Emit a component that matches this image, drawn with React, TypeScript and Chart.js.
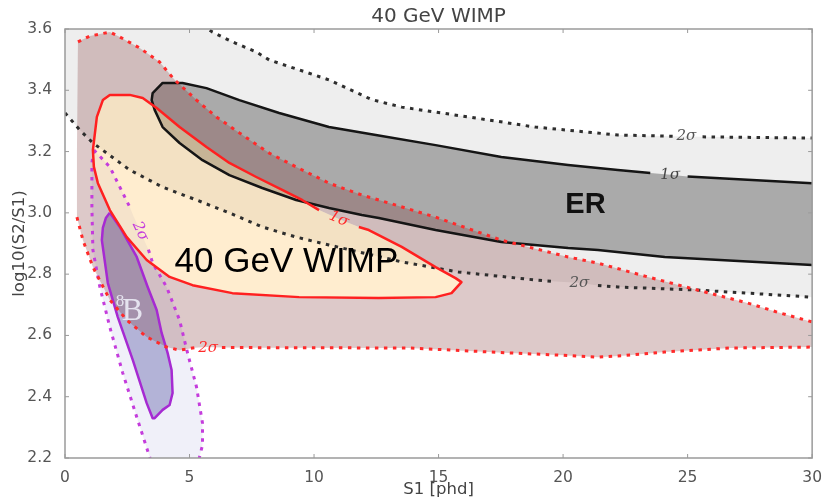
import React, { useEffect, useRef } from 'react';
import { Chart, registerables } from 'chart.js';

Chart.register(...registerables);

type Pt = [number, number];

const X_MIN = 0;
const X_MAX = 30;
const Y_MIN = 2.2;
const Y_MAX = 3.6;
const X_TICKS = [0, 5, 10, 15, 20, 25, 30];
const Y_TICKS = [2.2, 2.4, 2.6, 2.8, 3.0, 3.2, 3.4, 3.6];

// ER band, 2 sigma contour (upper / lower branch, left -> right)
const ER2_UPPER: Pt[] = [
  [4.6, 3.66], [5.2, 3.63], [5.92, 3.59], [6.72, 3.558], [7.68, 3.525], [8.2, 3.499],
  [10.6, 3.434], [12.3, 3.37], [13.52, 3.345], [16.2, 3.313], [18.88, 3.28], [22.2, 3.254],
  [24.4, 3.25], [25.0, 3.249], [25.6, 3.248], [30, 3.244],
];
const ER2_LOWER: Pt[] = [
  [0, 3.326], [0.6, 3.27], [1.12, 3.228], [2.6, 3.14], [3.92, 3.084], [5.28, 3.042],
  [6.6, 3.0], [7.92, 2.954], [9.28, 2.921], [10.6, 2.895], [13.52, 2.84], [15.8, 2.807],
  [18.88, 2.781], [19.7, 2.776], [20.7, 2.771], [21.4, 2.763], [22.2, 2.758], [25.4, 2.748], [30, 2.725],
];
// ER band, 1 sigma contour (upper / lower branch from the left tip)
const ER1_UPPER: Pt[] = [
  [3.48, 3.368], [3.52, 3.391], [3.92, 3.424], [4.72, 3.424], [5.68, 3.407], [7.0, 3.368],
  [8.6, 3.326], [10.6, 3.28], [12.48, 3.254], [14.88, 3.221], [17.52, 3.182], [20.2, 3.156],
  [22.2, 3.14], [23.5, 3.13], [24.2, 3.125], [25.0, 3.119], [30, 3.097],
];
const ER1_LOWER: Pt[] = [
  [3.48, 3.368], [3.6, 3.336], [3.92, 3.28], [4.6, 3.228], [5.52, 3.172], [6.6, 3.123],
  [7.92, 3.081], [9.28, 3.042], [10.6, 3.016], [11.92, 2.993], [12.6, 2.983], [14.88, 2.944],
  [17.52, 2.905], [20.2, 2.885], [21.4, 2.879], [24.08, 2.856], [30, 2.83],
];
// 40 GeV WIMP, 2 sigma contour
const WIMP2_UPPER: Pt[] = [
  [0.52, 3.558], [1.0, 3.577], [1.8, 3.59], [2.2, 3.574], [3.0, 3.538], [3.8, 3.492],
  [4.4, 3.434], [5.28, 3.368], [6.08, 3.313], [7.0, 3.261], [8.2, 3.195], [9.28, 3.15],
  [10.6, 3.097], [11.92, 3.058], [12.6, 3.042], [14.88, 2.986], [17.52, 2.911], [20.2, 2.856],
  [21.4, 2.836], [23.4, 2.791], [25.4, 2.748], [27.4, 2.706], [28.72, 2.673], [30, 2.644],
];
const WIMP2_LOWER: Pt[] = [
  [0.48, 2.986], [0.72, 2.911], [1.12, 2.823], [1.8, 2.716], [2.48, 2.65], [3.28, 2.595],
  [4.08, 2.562], [4.6, 2.552], [5.2, 2.56], [5.7, 2.562], [6.3, 2.561], [8.0, 2.56],
  [13.8, 2.559], [17.8, 2.543], [19.8, 2.536], [21.4, 2.529], [22.4, 2.534], [24.08, 2.546],
  [26.72, 2.559], [30, 2.562],
];
// 40 GeV WIMP, 1 sigma contour (closed)
const WIMP1: Pt[] = [
  [1.12, 3.205], [1.16, 3.15], [1.32, 3.097], [1.8, 3.009], [2.48, 2.921], [3.28, 2.846],
  [4.2, 2.791], [5.12, 2.764], [6.72, 2.738], [9.4, 2.725], [12.6, 2.722], [14.88, 2.725],
  [15.52, 2.738], [15.92, 2.774], [15.68, 2.787], [14.88, 2.823], [13.52, 2.889], [12.2, 2.944],
  [11.8, 2.954], [11.0, 2.98], [10.2, 3.009], [9.52, 3.042], [8.72, 3.075], [7.68, 3.117],
  [6.6, 3.163], [5.68, 3.215], [4.6, 3.28], [3.68, 3.342], [3.12, 3.375], [2.6, 3.385],
  [1.8, 3.385], [1.52, 3.368], [1.28, 3.313], [1.12, 3.205],
];
// 8B, 1 sigma contour (closed)
const B8_1: Pt[] = [
  [1.8, 3.0], [2.2, 2.954], [2.88, 2.856], [3.32, 2.758], [3.68, 2.683], [3.88, 2.608],
  [4.12, 2.543], [4.28, 2.487], [4.32, 2.412], [4.2, 2.373], [3.92, 2.357], [3.6, 2.33],
  [3.52, 2.33], [3.28, 2.379], [2.72, 2.52], [2.12, 2.66], [1.72, 2.771], [1.48, 2.911],
  [1.52, 2.951], [1.64, 2.983], [1.8, 3.0],
];
// 8B, 2 sigma contour (left / right branch, top -> bottom)
const B8_2_LEFT: Pt[] = [
  [1.16, 3.205], [1.08, 3.163], [1.08, 3.019], [1.12, 2.879], [1.4, 2.758], [1.8, 2.627],
  [2.32, 2.477], [2.88, 2.334], [3.4, 2.203], [3.7, 2.12],
];
const B8_2_RIGHT: Pt[] = [
  [1.16, 3.205], [1.8, 3.15], [2.6, 3.019], [2.75, 2.99], [3.0, 2.944], [3.35, 2.88],
  [3.52, 2.836], [4.08, 2.758], [4.6, 2.65], [4.92, 2.543], [5.28, 2.432], [5.52, 2.314],
  [5.52, 2.242], [5.4, 2.203], [5.25, 2.12],
];

type Label = { key: string; x: number; y: number; text: string; color: string; angle: number; gx: number; gy: number };
const CONTOUR_LABELS: Label[] = [
  { key: 'er2u', x: 24.95, y: 3.249, text: '2σ', color: '#555', angle: 0, gx: 0.5, gy: 0.04 },
  { key: 'er1', x: 24.3, y: 3.124, text: '1σ', color: '#444', angle: -1, gx: 0.6, gy: 0.04 },
  { key: 'er2l', x: 20.65, y: 2.77, text: '2σ', color: '#555', angle: 0, gx: 0.6, gy: 0.04 },
  { key: 'w1', x: 11.0, y: 2.98, text: '1σ', color: '#ff2a2a', angle: 23, gx: 0.55, gy: 0.05 },
  { key: 'w2', x: 5.75, y: 2.558, text: '2σ', color: '#ff2a2a', angle: 0, gx: 0.45, gy: 0.04 },
  { key: 'b2', x: 3.02, y: 2.94, text: '2σ', color: '#c43cdc', angle: 65, gx: 0.3, gy: 0.07 },
];

type Note = { text: string; x: number; y: number; font: string; color: string; align: CanvasTextAlign };
const NOTES: Note[] = [
  { text: 'ER', x: 20.9, y: 3.0, font: 'bold 29px "Liberation Sans"', color: '#111', align: 'center' },
  { text: '8', x: 2.04, y: 2.696, font: '17px "Liberation Serif"', color: 'rgba(236,236,246,0.9)', align: 'left' },
  { text: 'B', x: 2.28, y: 2.65, font: '32px "Liberation Serif"', color: 'rgba(236,236,246,0.9)', align: 'left' },
  { text: '40 GeV WIMP', x: 4.4, y: 2.807, font: '35px "Liberation Sans"', color: '#000', align: 'left' },
];

const toXY = (pts: Pt[]) => pts.map(([x, y]) => ({ x, y }));
const rev = (pts: Pt[]) => pts.slice().reverse();
const labelsFor = (...keys: string[]) => CONTOUR_LABELS.filter((l) => keys.includes(l.key));

function broken(pts: Pt[], labels: Label[]) {
  const out: { x: number; y: number | null }[] = [];
  let inGap = false;
  for (const [x, y] of pts) {
    const hit = labels.some((l) => Math.abs(x - l.x) <= l.gx && Math.abs(y - l.y) <= l.gy);
    if (hit) {
      if (!inGap) out.push({ x, y: null });
      inGap = true;
    } else {
      out.push({ x, y });
      inGap = false;
    }
  }
  return out;
}

function area(pts: Pt[], color: string) {
  return {
    data: toXY(pts), fill: 'shape', backgroundColor: color, borderColor: 'rgba(0,0,0,0)',
    borderWidth: 0, borderDash: [1, 1], pointRadius: 0, pointHoverRadius: 0, tension: 0,
  };
}
function stroke(data: any[], color: string, width: number, dash: number[]) {
  return {
    data, fill: false, borderColor: color, backgroundColor: color, borderWidth: width,
    borderDash: dash, borderCapStyle: 'butt', borderJoinStyle: 'round',
    pointRadius: 0, pointHoverRadius: 0, tension: 0,
  };
}

const framePlugin = {
  id: 'frame',
  afterDatasetsDraw(chart: any) {
    const { ctx, chartArea: a, scales } = chart;
    ctx.save();
    ctx.strokeStyle = '#9a9a9a';
    ctx.lineWidth = 1.5;
    ctx.strokeRect(a.left, a.top, a.right - a.left, a.bottom - a.top);
    ctx.lineWidth = 1;
    ctx.beginPath();
    for (const v of X_TICKS) {
      const px = scales.x.getPixelForValue(v);
      ctx.moveTo(px, a.bottom); ctx.lineTo(px, a.bottom - 4);
      ctx.moveTo(px, a.top); ctx.lineTo(px, a.top + 4);
    }
    for (const v of Y_TICKS) {
      const py = scales.y.getPixelForValue(v);
      ctx.moveTo(a.left, py); ctx.lineTo(a.left + 4, py);
      ctx.moveTo(a.right, py); ctx.lineTo(a.right - 4, py);
    }
    ctx.stroke();
    ctx.restore();
  },
};

const notesPlugin = {
  id: 'notes',
  afterDatasetsDraw(chart: any) {
    const { ctx, scales } = chart;
    const xs = scales.x;
    const ys = scales.y;
    ctx.save();
    for (const l of CONTOUR_LABELS) {
      ctx.save();
      ctx.translate(xs.getPixelForValue(l.x), ys.getPixelForValue(l.y));
      ctx.rotate((l.angle * Math.PI) / 180);
      ctx.font = 'italic 15px "DejaVu Serif"';
      ctx.fillStyle = l.color;
      ctx.textAlign = 'center';
      ctx.textBaseline = 'middle';
      ctx.fillText(l.text, 0, 0);
      ctx.restore();
    }
    for (const n of NOTES) {
      ctx.font = n.font;
      ctx.fillStyle = n.color;
      ctx.textAlign = n.align;
      ctx.textBaseline = 'alphabetic';
      ctx.fillText(n.text, xs.getPixelForValue(n.x), ys.getPixelForValue(n.y));
    }
    ctx.restore();
  },
};

export default function App() {
  const ref = useRef<HTMLCanvasElement | null>(null);

  useEffect(() => {
    if (!ref.current) return;
    const top = Y_MAX + 0.2;
    const P0: Pt = [WIMP2_LOWER[0][0], WIMP1[0][1]];
    const ringPts: Pt[] = [P0, ...WIMP2_UPPER, ...rev(WIMP2_LOWER), P0, ...WIMP1, P0];
    const er2Band: Pt[] = [...ER2_LOWER, ...rev(ER2_UPPER), [ER2_UPPER[0][0], top], [X_MIN, top]];
    const er1Shape: Pt[] = [...ER1_UPPER, ...rev(ER1_LOWER)];
    const b82Shape: Pt[] = [...B8_2_RIGHT, ...rev(B8_2_LEFT)];
    const er1Outline: Pt[] = [...rev(ER1_LOWER), ...ER1_UPPER.slice(1)];

    const dotted = [3.5, 5.5];
    const datasets: any[] = [
      area(er2Band, '#eeeeee'),
      area(er1Shape, '#aaaaaa'),
      area(b82Shape, 'rgba(200,200,235,0.28)'),
      area(B8_1, 'rgba(95,95,170,0.42)'),
      area(ringPts, 'rgba(120,40,40,0.25)'),
      area(WIMP1, 'rgba(255,200,110,0.33)'),
      stroke(broken(ER2_UPPER, labelsFor('er2u')), '#2e2e2e', 3, dotted),
      stroke(broken(ER2_LOWER, labelsFor('er2l')), '#2e2e2e', 3, dotted),
      stroke(broken(er1Outline, labelsFor('er1')), '#151515', 2.5, []),
      stroke(toXY(B8_2_LEFT), '#c43cdc', 3, dotted),
      stroke(broken(B8_2_RIGHT, labelsFor('b2')), '#c43cdc', 3, dotted),
      stroke(toXY(B8_1), '#a62ad2', 2.5, []),
      stroke(toXY(WIMP2_UPPER), '#ff2a2a', 3, dotted),
      stroke(broken(WIMP2_LOWER, labelsFor('w2')), '#ff2a2a', 3, dotted),
      stroke(broken(WIMP1, labelsFor('w1')), '#ff2020', 2.5, []),
    ];
    datasets.forEach((d, i) => { d.order = datasets.length - i; });

    const tickFont = { family: 'DejaVu Sans', size: 15.5 };
    const chart = new Chart(ref.current, {
      type: 'line',
      data: { datasets },
      options: {
        animation: false,
        responsive: false,
        events: [],
        layout: { padding: { top: 0, right: 10, bottom: 0, left: 0 } },
        plugins: {
          legend: { display: false },
          tooltip: { enabled: false },
          title: {
            display: true, text: '40 GeV WIMP', fullSize: false, color: '#444',
            font: { family: 'DejaVu Sans', size: 20, weight: 'normal', lineHeight: 1.2 },
            padding: { top: 5, bottom: 0 },
          },
        },
        scales: {
          x: {
            type: 'linear', min: X_MIN, max: X_MAX,
            afterBuildTicks: (s: any) => { s.ticks = X_TICKS.map((v) => ({ value: v })); },
            afterFit: (s: any) => { s.height = 44; },
            grid: { display: false },
            border: { display: false },
            ticks: { color: '#555', font: tickFont, padding: 3, maxRotation: 0, autoSkip: false, callback: (v: any) => String(v) },
            title: { display: true, text: 'S1 [phd]', color: '#444', font: { family: 'DejaVu Sans', size: 16.5 }, padding: { top: 0, bottom: 2 } },
          },
          y: {
            type: 'linear', min: Y_MIN, max: Y_MAX,
            afterBuildTicks: (s: any) => { s.ticks = Y_TICKS.map((v) => ({ value: v })); },
            afterFit: (s: any) => { s.width = 65; },
            grid: { display: false },
            border: { display: false },
            ticks: { color: '#555', font: tickFont, padding: 5, autoSkip: false, callback: (v: any) => Number(v).toFixed(1) },
            title: { display: true, text: 'log10(S2/S1)', color: '#444', font: { family: 'DejaVu Sans', size: 16.5 }, padding: { top: 10, bottom: 0 } },
          },
        },
      } as any,
      plugins: [framePlugin, notesPlugin],
    } as any);
    return () => chart.destroy();
  }, []);

  return (
    <div style={{ position: 'fixed', left: 0, top: 0, width: 825, height: 502, background: '#fff' }}>
      <canvas ref={ref} width={825} height={502} style={{ display: 'block', width: 825, height: 502 }} />
    </div>
  );
}
